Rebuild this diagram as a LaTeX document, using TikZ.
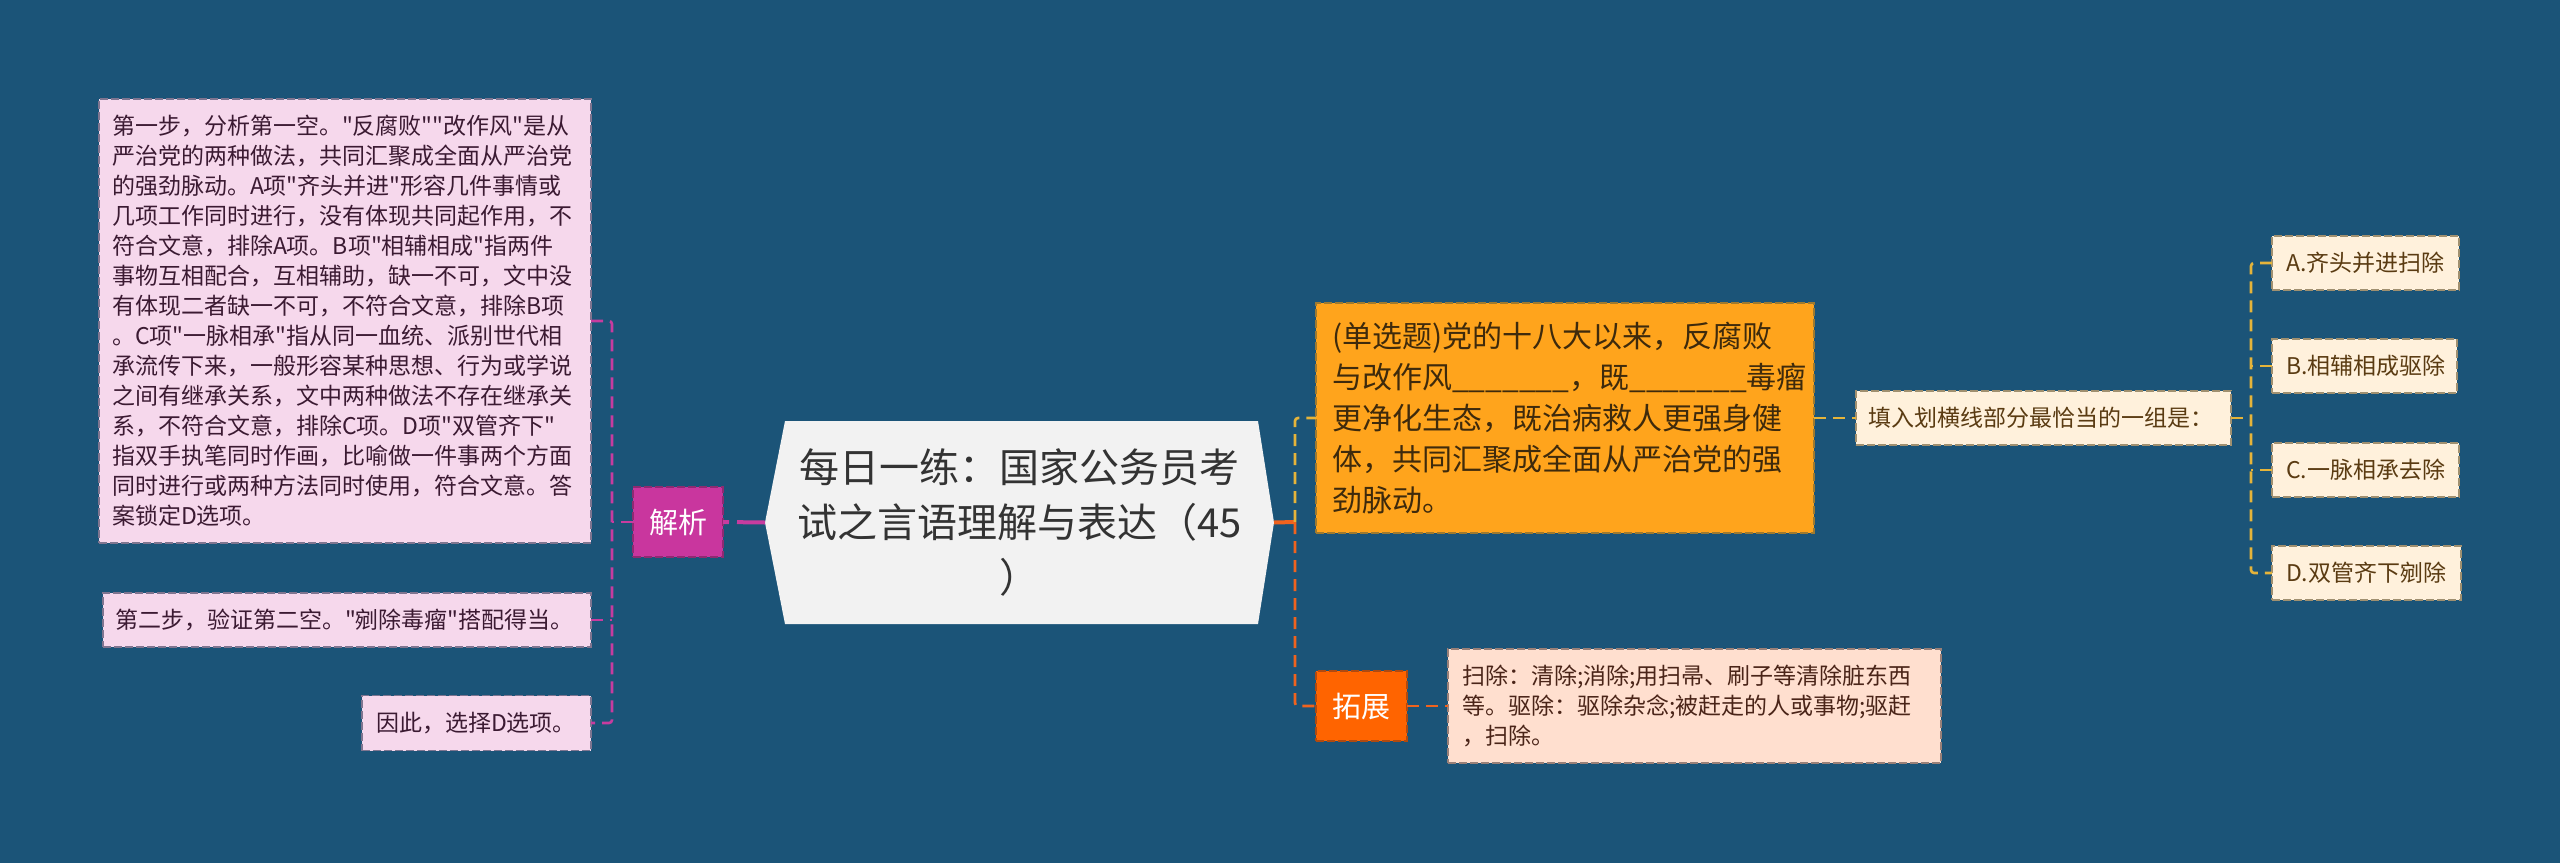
\documentclass[tikz,border=0pt]{standalone}
\usepackage{fontspec}
\setmainfont{Noto Sans CJK SC}[Ligatures=TeXOff]
\usetikzlibrary{calc}
\definecolor{bg}{HTML}{1B5478}
\definecolor{pinkfill}{HTML}{F6D8EC}
\definecolor{pinkdraw}{HTML}{7F7590}
\definecolor{pinktext}{HTML}{3B1A32}
\definecolor{magline}{HTML}{C73C9F}
\definecolor{jxfill}{HTML}{C9369E}
\definecolor{jxdraw}{HTML}{8E2A72}
\definecolor{hexfill}{HTML}{F2F2F2}
\definecolor{hextext}{HTML}{333333}
\definecolor{qfill}{HTML}{FFA41C}
\definecolor{qdraw}{HTML}{9E7A30}
\definecolor{qtext}{HTML}{3E2A0C}
\definecolor{tzfill}{HTML}{FF6400}
\definecolor{tzdraw}{HTML}{B04A10}
\definecolor{exfill}{HTML}{FFDFCF}
\definecolor{exdraw}{HTML}{9A8078}
\definecolor{extext}{HTML}{4A2418}
\definecolor{crfill}{HTML}{FFF1DC}
\definecolor{crdraw}{HTML}{A09070}
\definecolor{crtext}{HTML}{5A3B12}
\definecolor{yline}{HTML}{E5B43A}
\definecolor{oline}{HTML}{F0631E}
\newcommand\myfsS{\fontsize{23pt}{30pt}\selectfont}
\newcommand\myfsM{\fontsize{29pt}{36pt}\selectfont}
\newcommand\myfsQ{\fontsize{30pt}{41pt}\selectfont}
\newcommand\myfsL{\fontsize{40pt}{55pt}\selectfont}
\tikzset{
  basebox/.style={rectangle, outer sep=0pt, line width=1.5pt, dash pattern=on 8pt off 3pt, anchor=west},
  pbox/.style={basebox, fill=pinkfill, draw=pinkdraw, text=pinktext, align=left, inner xsep=13pt, inner ysep=4pt, font=\myfsS},
  tagbox/.style={basebox, align=center, inner xsep=2pt, inner ysep=2pt, text=white, font=\myfsM, minimum height=70pt},
  qbox/.style={basebox, fill=qfill, draw=qdraw, text=qtext, align=left, inner xsep=16pt, inner ysep=4pt, font=\myfsQ},
  exbox/.style={basebox, fill=exfill, draw=exdraw, text=extext, align=left, inner xsep=14pt, inner ysep=4pt, font=\myfsS},
  crbox/.style={basebox, fill=crfill, draw=crdraw, text=crtext, align=left, inner xsep=14pt, inner ysep=4pt, font=\myfsS, minimum height=54pt},
  conn/.style={line width=2.6pt, dash pattern=on 12pt off 7pt, rounded corners=3pt},
}
\begin{document}
\begin{tikzpicture}[x=1pt,y=-1pt]
\useasboundingbox (0,0) rectangle (2560,863);
\fill[bg] (0,0) rectangle (2560,863);

% left boxes
\node[pbox, text width=466pt, minimum height=444pt] (p1) at (99,321) {第一步，分析第一空。"反腐败""改作风"是从\\
严治党的两种做法，共同汇聚成全面从严治党\\
的强劲脉动。A项"齐头并进"形容几件事情或\\
几项工作同时进行，没有体现共同起作用，不\\
符合文意，排除A项。B项"相辅相成"指两件\\
事物互相配合，互相辅助，缺一不可，文中没\\
有体现二者缺一不可，不符合文意，排除B项\\
。C项"一脉相承"指从同一血统、派别世代相\\
承流传下来，一般形容某种思想、行为或学说\\
之间有继承关系，文中两种做法不存在继承关\\
系，不符合文意，排除C项。D项"双管齐下"\\
指双手执笔同时作画，比喻做一件事两个方面\\
同时进行或两种方法同时使用，符合文意。答\\
案锁定D选项。};
\node[pbox, inner xsep=12pt, text width=464pt, minimum height=54pt] (p2) at (103,620) {第二步，验证第二空。"剜除毒瘤"搭配得当。};
\node[pbox, inner xsep=14pt, text width=201pt, minimum height=55pt] (p3) at (362,723) {因此，选择D选项。};

\node[tagbox, fill=jxfill, draw=jxdraw, minimum width=90pt] (jx) at (633,522) {解析};

% center hexagon
\node[rectangle, outer sep=0pt, minimum width=509pt, minimum height=203pt, inner sep=0pt] (ctr) at (1019.5,522.5) {};
\fill[hexfill] (ctr.west) -- ($(ctr.north west)+(20,0)$) -- ($(ctr.north east)+(-16,0)$) -- (ctr.east)
  -- ($(ctr.south east)+(-16,0)$) -- ($(ctr.south west)+(20,0)$) -- cycle;
\node[align=center, text=hextext, font=\myfsL, inner sep=0pt] (ctrtext) at (ctr.center) {每日一练：国家公务员考\\试之言语理解与表达（45\\）};

% right side
\node[qbox, text width=466pt, minimum height=230pt] (q) at (1316,418) {(单选题)党的十八大以来，反腐败\\
与改作风\_\_\_\_\_\_\_，既\_\_\_\_\_\_\_毒瘤\\
更净化生态，既治病救人更强身健\\
体，共同汇聚成全面从严治党的强\\
劲脉动。};
\node[tagbox, fill=tzfill, draw=tzdraw, minimum width=91pt] (tz) at (1316,706) {拓展};
\node[exbox, text width=465pt, minimum height=114pt] (ex) at (1448,706) {扫除：清除;消除;用扫帚、刷子等清除脏东西\\
等。驱除：驱除杂念;被赶走的人或事物;驱赶\\
，扫除。};
\node[crbox, inner xsep=12pt, text width=351pt] (mid) at (1856,418) {填入划横线部分最恰当的一组是：};
\node[crbox, text width=159pt] (oa) at (2272,263) {A.齐头并进扫除};
\node[crbox, text width=157pt] (ob) at (2272,366) {B.相辅相成驱除};
\node[crbox, text width=159pt] (oc) at (2272,470) {C.一脉相承去除};
\node[crbox, text width=161pt] (od) at (2272,573) {D.双管齐下剜除};

% connectors left
\coordinate (sl) at (612,522);
\draw[conn, magline] (p1.east) -- (p1.east -| sl) -- (p3.east -| sl) -- (p3.east);
\draw[conn, magline] (p2.east) -- (p2.east -| sl);
\draw[conn, magline] (jx.west) -- (sl);
\draw[magline, line width=4pt, dash pattern=on 6pt off 8pt on 60pt off 1pt] (jx.east) -- (ctr.west);

% connectors right of center
\coordinate (sr) at (1295,522);
\draw[oline, line width=4pt] (ctr.east) -- (sr);
\draw[conn, yline] (sr) |- (q.west);
\draw[conn, oline] (sr) |- (tz.west);
\draw[conn, oline] (tz.east) -- (ex.west);
\draw[conn, yline] (q.east) -- (mid.west);
\coordinate (sr2) at (2251,418);
\draw[conn, yline] (mid.east) -- (sr2);
\draw[conn, yline] (oa.west) -- (oa.west -| sr2) -- (od.west -| sr2) -- (od.west);
\draw[conn, yline] (ob.west) -- (ob.west -| sr2);
\draw[conn, yline] (oc.west) -- (oc.west -| sr2);
\end{tikzpicture}
\end{document}
